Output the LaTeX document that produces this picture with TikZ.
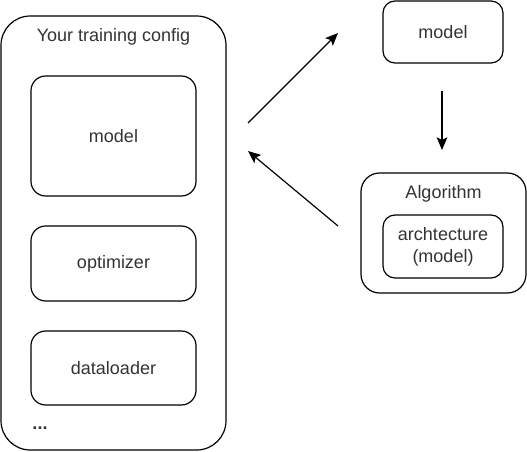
\documentclass[tikz,border=0pt]{standalone}
\usepackage{fontspec}
\setmainfont{Liberation Sans}
\usetikzlibrary{arrows.meta}
\begin{document}
\begin{tikzpicture}[x=0.75pt,y=-0.75pt,
  box/.style={draw,line width=0.9pt,rounded corners=#1,inner sep=0pt,font=\fontsize{13.5}{16.5}\selectfont,text=black!80},
  box/.default=11pt,
  lbl/.style={inner sep=0pt,font=\fontsize{13.5}{16.5}\selectfont,text=black!80},
  arr/.style={line width=0.9pt,-{Stealth[length=9.5pt,width=8pt,inset=2pt]}}]
\useasboundingbox (0,0) rectangle (527,452);
% left column
\node[box=22pt,minimum width=225*0.75pt,minimum height=434*0.75pt] (outer) at (113.5,233) {};
\node[lbl] (title) at (113.5,37) {Your training config};
\node[box,minimum width=165*0.75pt,minimum height=120*0.75pt] (model1) at (113.5,136) {model};
\node[box,minimum width=165*0.75pt,minimum height=75*0.75pt] (optim) at (113.5,263.5) {optimizer};
\node[box,minimum width=165*0.75pt,minimum height=74*0.75pt] (data) at (113.5,368) {dataloader};
\node[lbl,font=\fontsize{13.5}{16.5}\selectfont\bfseries] (dots) at (40,428) {...};
% right column
\node[box=9pt,minimum width=120*0.75pt,minimum height=62*0.75pt] (model2) at (443,32) {model};
\node[box=14pt,minimum width=165*0.75pt,minimum height=120*0.75pt] (algo) at (443.5,233) {};
\node[lbl] (algotitle) at (443.5,194) {Algorithm};
\node[box=9pt,minimum width=120*0.75pt,minimum height=63*0.75pt,align=center] (arch) at (443,246.5) {archtecture\\(model)};
% arrows
\coordinate (a1s) at (248,123);
\coordinate (a1e) at (338,33);
\coordinate (a2s) at (338,226);
\coordinate (a2e) at (248,151);
\coordinate (a3s) at (442,91);
\coordinate (a3e) at (442,150);
\draw[arr] (a1s) -- (a1e);
\draw[arr] (a2s) -- (a2e);
\draw[arr] (a3s) -- (a3e);
\end{tikzpicture}
\end{document}
